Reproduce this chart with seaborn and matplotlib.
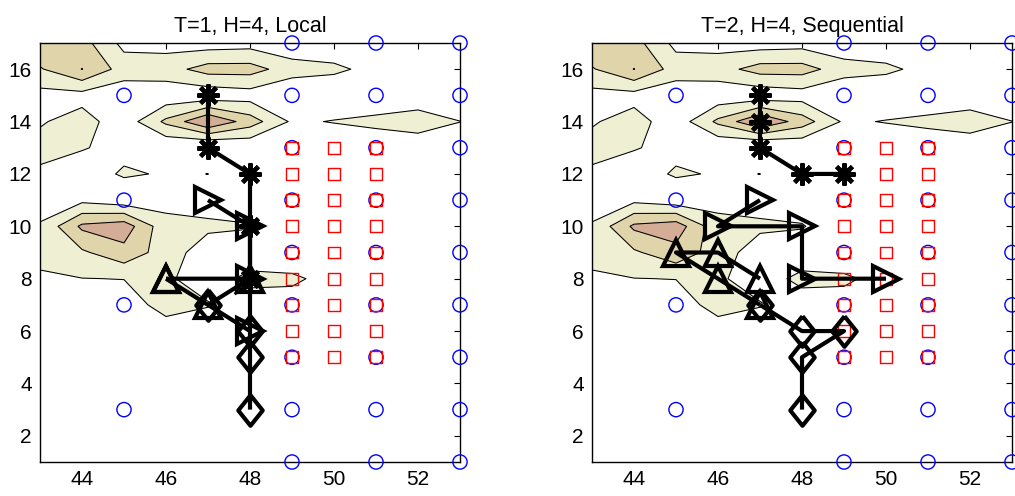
import numpy as np
import matplotlib
matplotlib.use("Agg")
import matplotlib.pyplot as plt
import seaborn as sns

sns.set_style("white")
plt.rcParams["font.family"] = ["Liberation Sans", "DejaVu Sans"]
plt.rcParams["text.color"] = "black"
plt.rcParams["xtick.color"] = "black"
plt.rcParams["ytick.color"] = "black"

# grid of the background field
grid_x = [43, 44, 45, 46, 47, 48, 49, 50, 51, 52, 53]
grid_y = list(range(1, 18))
# one row per y = 1..17, columns x = 43..53
field_rows = [
    [0.30, 0.30, 0.30, 0.30, 0.30, 0.30, 0.30, 0.30, 0.30, 0.30, 0.30],
    [0.35, 0.40, 0.35, 0.30, 0.35, 0.40, 0.35, 0.30, 0.30, 0.35, 0.30],
    [0.40, 0.45, 0.40, 0.35, 0.40, 0.45, 0.40, 0.35, 0.30, 0.30, 0.30],
    [0.40, 0.45, 0.45, 0.40, 0.40, 0.45, 0.45, 0.40, 0.35, 0.30, 0.30],
    [0.45, 0.50, 0.45, 0.45, 0.45, 0.50, 0.50, 0.45, 0.40, 0.35, 0.30],
    [0.50, 0.50, 0.45, 0.50, 0.50, 0.40, 0.50, 0.45, 0.40, 0.35, 0.30],
    [0.55, 0.60, 0.47, 1.40, 1.05, 0.67, 0.88, 0.60, 0.45, 0.40, 0.35],
    [0.85, 0.98, 1.02, 1.10, 0.68, 1.18, 1.05, 0.90, 0.50, 0.40, 0.35],
    [1.30, 1.84, 2.67, 1.50, 0.46, 0.58, 0.80, 0.60, 0.50, 0.40, 0.35],
    [1.10, 3.20, 3.57, 1.30, 1.20, 1.05, 0.50, 0.50, 0.45, 0.40, 0.35],
    [0.51, 0.76, 0.40, 0.70, 0.53, 0.60, 0.50, 0.45, 0.45, 0.40, 0.40],
    [0.81, 0.60, 1.10, 0.93, 1.004, 0.60, 0.50, 0.45, 0.45, 0.45, 0.45],
    [1.35, 1.05, 0.77, 0.08, -0.29, 0.12, 0.50, 0.20, 0.45, 0.50, 0.50],
    [0.90, 1.42, 0.40, 2.22, 4.00, 2.50, 0.85, 1.05, 1.20, 1.40, 1.01],
    [0.65, 0.64, 0.29, 0.30, 0.30, 0.53, 0.00, 0.20, 0.40, 0.50, 0.50],
    [1.90, 3.02, 1.56, 1.60, 2.40, 2.40, 1.50, 1.20, 0.70, 0.50, 0.40],
    [2.90, 2.40, 0.70, 0.60, 0.50, 0.60, 0.20, 0.33, 0.30, 0.30, 0.30],
]
field_levels = [1, 2, 3, 5]
field_colors = ["#EFEFD4", "#E0D5AA", "#D3AD95"]

# blue circle sites
circle_x = [45, 45, 45, 45] + [49] * 9 + [51] * 9 + [53] * 9
circle_y = [3, 7, 11, 15] + [1, 3, 5, 7, 9, 11, 13, 15, 17] * 3

# red square sites
square_x = [49] * 9 + [50] * 9 + [51] * 9
square_y = [5, 6, 7, 8, 9, 10, 11, 12, 13] * 3

# agent paths, left panel (T=1, Local)
local_star_x, local_star_y = [47, 47, 48, 48, 48], [15, 13, 12, 10, 8]
local_right_x, local_right_y = [47, 48, 48, 48], [11, 10, 8, 6]
local_up_x, local_up_y = [46, 48, 47, 46], [8, 8, 7, 8]
local_diam_x, local_diam_y = [48, 48, 48, 47], [3, 5, 6, 7]

# agent paths, right panel (T=2, Sequential)
seq_star_x, seq_star_y = [47, 47, 47, 48, 49], [15, 14, 13, 12, 12]
seq_right_x, seq_right_y = [47, 46, 48, 48, 50], [11, 10, 10, 8, 8]
seq_up_x, seq_up_y = [47, 46, 45, 46, 47], [8, 9, 9, 8, 7]
seq_diam_x, seq_diam_y = [48, 48, 49, 48, 47], [3, 5, 6, 6, 7]

titles = ["T=1, H=4, Local", "T=2, H=4, Sequential"]

ASTERISK = (8, 2, 0)
DIAMOND = [(0, 1.25), (1, 0), (0, -1.25), (-1, 0), (0, 1.25)]


def draw_panel(ax, title, paths):
    xx, yy = np.meshgrid(grid_x, grid_y)
    zz = np.array(field_rows)
    ax.contourf(xx, yy, zz, levels=field_levels, colors=field_colors, zorder=1)
    ax.contour(xx, yy, zz, levels=field_levels[:3], colors="k",
               linewidths=0.75, zorder=2)

    sns.scatterplot(x=circle_x, y=circle_y, marker="o", s=105,
                    facecolor="none", edgecolor="blue", linewidth=1.0,
                    clip_on=False, zorder=3, ax=ax)
    sns.scatterplot(x=square_x, y=square_y, marker="s", s=72,
                    facecolor="none", edgecolor="red", linewidth=1.0,
                    zorder=4, ax=ax)

    for (px, py), mk, ms in paths:
        ax.plot(px, py, color="k", lw=3, zorder=5, solid_capstyle="butt")
        ax.plot(px, py, ls="none", marker=mk, ms=ms, mew=3,
                mfc="none", mec="k", zorder=6)

    ax.set_xlim(43, 53)
    ax.set_ylim(1, 17)
    ax.set_xticks(range(44, 53, 2))
    ax.set_yticks(range(2, 17, 2))
    ax.tick_params(direction="in", top=True, right=True, length=4,
                   width=0.8, labelsize=15, pad=6, colors="k")
    for sp in ax.spines.values():
        sp.set_visible(True)
        sp.set_color("k")
        sp.set_linewidth(1.0)
    ax.set_title(title, fontsize=15.5, pad=8, color="k")


fig = plt.figure(figsize=(10.15, 4.96), dpi=100)
ax1 = fig.add_axes([40 / 1015, 34 / 496, 420 / 1015, 419 / 496])
ax2 = fig.add_axes([592 / 1015, 34 / 496, 420 / 1015, 419 / 496])

draw_panel(ax1, titles[0], [
    ((local_star_x, local_star_y), ASTERISK, 16),
    ((local_right_x, local_right_y), ">", 19),
    ((local_up_x, local_up_y), "^", 19),
    ((local_diam_x, local_diam_y), DIAMOND, 22),
])
draw_panel(ax2, titles[1], [
    ((seq_star_x, seq_star_y), ASTERISK, 16),
    ((seq_right_x, seq_right_y), ">", 19),
    ((seq_up_x, seq_up_y), "^", 19),
    ((seq_diam_x, seq_diam_y), DIAMOND, 22),
])

fig.savefig("out.png", dpi=100)
